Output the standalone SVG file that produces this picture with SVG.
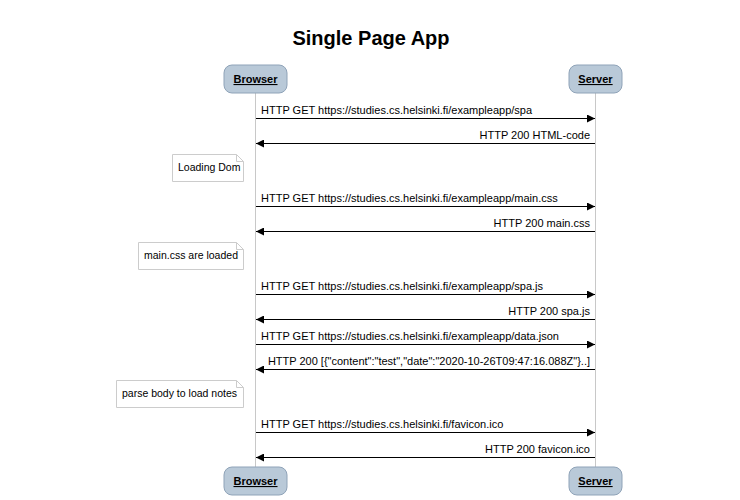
<svg xmlns="http://www.w3.org/2000/svg" width="740" height="500" viewBox="0 0 740 500">
<style>
text{font-family:"Liberation Sans",Arial,sans-serif;fill:#000}
.title{font-size:20px;font-weight:bold;text-anchor:middle}
.actor rect{fill:#b9c9d8;stroke:#8fa3b8;stroke-width:1}
.actor text{font-size:11px;font-weight:bold;text-decoration:underline;text-anchor:middle}
.life{stroke:#c8c8c8;stroke-width:1}
.msg line{stroke:#000;stroke-width:1}
.msg text{font-size:11px}
.r{text-anchor:end}
.note path{fill:#fff;stroke:#ccc;stroke-width:1}
.note text{font-size:10.5px}
</style>
<defs>
<marker id="ah" viewBox="0 0 10 10" refX="10" refY="5" markerWidth="10" markerHeight="8" markerUnits="userSpaceOnUse" orient="auto"><path d="M0,0 L10,5 L0,10 z" fill="#000"/></marker>
</defs>
<rect width="740" height="500" fill="#fff"/>
<text class="title" x="371" y="45">Single Page App</text>
<g id="lifelines">
<line class="life" x1="255.5" y1="93" x2="255.5" y2="467"/>
<line class="life" x1="595.5" y1="93" x2="595.5" y2="467"/>
</g>
<g id="browser-top" class="actor"><rect x="224" y="65" width="63" height="28" rx="8"/><text x="255.5" y="83">Browser</text></g>
<g id="server-top" class="actor"><rect x="569" y="65" width="53" height="28" rx="8"/><text x="595.5" y="83">Server</text></g>
<g id="browser-bottom" class="actor"><rect x="224" y="467" width="63" height="28" rx="8"/><text x="255.5" y="485">Browser</text></g>
<g id="server-bottom" class="actor"><rect x="569" y="467" width="53" height="28" rx="8"/><text x="595.5" y="485">Server</text></g>
<g id="connectors" class="msg">
<line x1="256" y1="118.5" x2="595" y2="118.5" marker-end="url(#ah)"/>
<text x="261" y="114">HTTP GET https://studies.cs.helsinki.fi/exampleapp/spa</text>
<line x1="595" y1="143.5" x2="256" y2="143.5" marker-end="url(#ah)"/>
<text class="r" x="590" y="139">HTTP 200 HTML-code</text>
<line x1="256" y1="206.5" x2="595" y2="206.5" marker-end="url(#ah)"/>
<text x="261" y="202">HTTP GET https://studies.cs.helsinki.fi/exampleapp/main.css</text>
<line x1="595" y1="231.5" x2="256" y2="231.5" marker-end="url(#ah)"/>
<text class="r" x="590" y="227">HTTP 200 main.css</text>
<line x1="256" y1="294.5" x2="595" y2="294.5" marker-end="url(#ah)"/>
<text x="261" y="290">HTTP GET https://studies.cs.helsinki.fi/exampleapp/spa.js</text>
<line x1="595" y1="319.5" x2="256" y2="319.5" marker-end="url(#ah)"/>
<text class="r" x="590" y="315">HTTP 200 spa.js</text>
<line x1="256" y1="344.5" x2="595" y2="344.5" marker-end="url(#ah)"/>
<text x="261" y="340">HTTP GET https://studies.cs.helsinki.fi/exampleapp/data.json</text>
<line x1="595" y1="369.5" x2="256" y2="369.5" marker-end="url(#ah)"/>
<text class="r" x="590" y="365">HTTP 200 [{"content":"test","date":"2020-10-26T09:47:16.088Z"}..]</text>
<line x1="256" y1="432.5" x2="595" y2="432.5" marker-end="url(#ah)"/>
<text x="261" y="428">HTTP GET https://studies.cs.helsinki.fi/favicon.ico</text>
<line x1="595" y1="457.5" x2="256" y2="457.5" marker-end="url(#ah)"/>
<text class="r" x="590" y="453">HTTP 200 favicon.ico</text>
</g>
<g id="note-loading-dom" class="note"><path d="M172.5,154.5 H236.5 L243.5,161.5 V181.5 H172.5 Z M236.5,154.5 V161.5 H243.5"/><text x="178" y="171">Loading Dom</text></g>
<g id="note-main-css" class="note"><path d="M138.5,242.5 H236.5 L243.5,249.5 V269.5 H138.5 Z M236.5,242.5 V249.5 H243.5"/><text x="144" y="259">main.css are loaded</text></g>
<g id="note-parse-body" class="note"><path d="M116.5,380.5 H236.5 L243.5,387.5 V407.5 H116.5 Z M236.5,380.5 V387.5 H243.5"/><text x="122" y="397">parse body to load notes</text></g>
</svg>
